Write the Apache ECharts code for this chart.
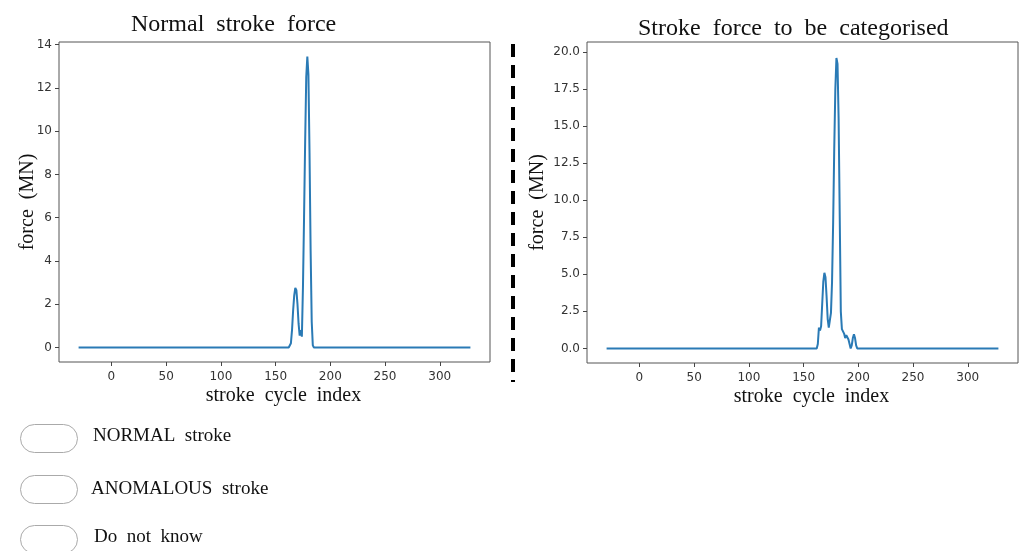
<!DOCTYPE html>
<html>
<head>
<meta charset="utf-8">
<script src="https://cdn.jsdelivr.net/npm/echarts@6/dist/echarts.min.js"></script>
<style>
html,body{margin:0;padding:0;background:#fff;}
#chart{width:1019px;height:551px;}
</style>
</head>
<body>
<div id="chart"></div>
<script>
// ---- data ----
const leftTitle = 'Normal  stroke  force';
const rightTitle = 'Stroke  force  to  be  categorised';
const xLabel = 'stroke  cycle  index';
const yLabel = 'force  (MN)';
const xTicks = [0, 50, 100, 150, 200, 250, 300];
const leftYTicks = [0, 2, 4, 6, 8, 10, 12, 14];
const rightYTicks = [0, 2.5, 5, 7.5, 10, 12.5, 15, 17.5, 20];

// normal stroke: index / force
const normalIdx   = [-30, 162, 163, 164, 165, 166, 167, 168, 169, 170, 171, 172, 173, 174, 175, 176, 177, 178, 179, 180, 181, 182, 183, 184, 185, 328];
const normalForce = [0, 0, 0.05, 0.2, 0.8, 1.7, 2.4, 2.75, 2.65, 2.0, 1.1, 0.55, 0.8, 0.5, 2.8, 6.0, 9.5, 12.5, 13.45, 12.6, 9.0, 4.5, 1.2, 0.1, 0, 0];

// stroke to be categorised: index / force
const testIdx   = [-30, 162, 163, 164, 165, 166, 167, 168, 169, 170, 171, 172, 173, 174, 175, 176, 177, 178, 179, 180, 181, 182, 183, 184, 185, 186, 187, 188, 189, 190, 191, 192, 193, 194, 195, 196, 197, 198, 199, 328];
const testForce = [0, 0, 0.3, 1.4, 1.2, 1.5, 3.0, 4.5, 5.1, 4.8, 3.5, 2.0, 1.4, 1.9, 2.4, 4.5, 8.5, 13.5, 17.5, 19.6, 19.2, 15.5, 9.0, 2.5, 1.3, 1.2, 1.0, 0.7, 0.9, 1.0, 0.6, 0.3, 0.0, 0.2, 0.7, 0.95, 0.7, 0.2, 0, 0];

const options = ['NORMAL  stroke', 'ANOMALOUS  stroke', 'Do  not  know'];

// ---- chart ----
const pairs = (xs, ys) => xs.map((x, i) => [x, ys[i]]);
const serif = '"Liberation Serif", "DejaVu Serif", serif';
const sans = '"DejaVu Sans", sans-serif';
const lineColor = '#2a7ab5';

function xAxisCfg(gi) {
  return {
    gridIndex: gi, type: 'value', min: -47.9, max: 345.9,
    axisLine: {show: false, onZero: false}, splitLine: {show: false},
    axisTick: {show: true, customValues: xTicks, length: 4, lineStyle: {color: '#444'}},
    axisLabel: {customValues: xTicks, fontFamily: sans, fontSize: 12, color: '#333', margin: 9},
    name: xLabel, nameLocation: 'middle', nameGap: 24, nameMoveOverlap: false,
    nameTextStyle: {fontFamily: serif, fontSize: 20, color: '#111', verticalAlign: 'top', padding: [0, 0, 0, 18]}
  };
}
function yAxisCfg(gi, min, max, ticks, dec, gap) {
  return {
    gridIndex: gi, type: 'value', min: min, max: max,
    axisLine: {show: false, onZero: false}, splitLine: {show: false},
    axisTick: {show: true, customValues: ticks, length: 4, lineStyle: {color: '#444'}},
    axisLabel: {customValues: ticks, fontFamily: sans, fontSize: 12, color: '#333', margin: 7,
      formatter: v => v.toFixed(dec)},
    name: yLabel, nameLocation: 'middle', nameGap: gap, nameRotate: 90, nameMoveOverlap: false,
    nameTextStyle: {fontFamily: serif, fontSize: 20, color: '#111'}
  };
}

const chart = echarts.init(document.getElementById('chart'), null, {renderer: 'canvas'});
const graphics = [
  {type: 'line', shape: {x1: 513, y1: 44, x2: 513, y2: 382},
   style: {stroke: '#000', lineWidth: 4, lineDash: [13, 8]}}
];
const pillTops = [424, 475, 525];
const textPos = [[93, 436], [91, 489], [94, 537]];
options.forEach((t, i) => {
  graphics.push({type: 'rect', shape: {x: 20.5, y: pillTops[i] + 0.5, width: 57, height: 28, r: 14},
    style: {fill: '#fff', stroke: '#aaa', lineWidth: 1}});
  graphics.push({type: 'text', x: textPos[i][0], y: textPos[i][1],
    style: {text: t, font: '19px ' + serif, fill: '#111', verticalAlign: 'middle'}});
});

chart.setOption({
  animation: false,
  backgroundColor: '#fff',
  title: [
    {text: leftTitle, left: 126, top: 8, textStyle: {fontFamily: serif, fontSize: 24, fontWeight: 'normal', color: '#111'}},
    {text: rightTitle, left: 633, top: 12, textStyle: {fontFamily: serif, fontSize: 24, fontWeight: 'normal', color: '#111'}}
  ],
  grid: [
    {left: 59, top: 42, width: 431, height: 320, show: true, borderColor: '#555', borderWidth: 1, backgroundColor: 'transparent'},
    {left: 587, top: 42, width: 431, height: 321, show: true, borderColor: '#555', borderWidth: 1, backgroundColor: 'transparent'}
  ],
  xAxis: [xAxisCfg(0), xAxisCfg(1)],
  yAxis: [
    yAxisCfg(0, -0.67, 14.12, leftYTicks, 0, 21),
    yAxisCfg(1, -0.985, 20.68, rightYTicks, 1, 39)
  ],
  series: [
    {type: 'line', xAxisIndex: 0, yAxisIndex: 0, data: pairs(normalIdx, normalForce), showSymbol: false,
     lineStyle: {color: lineColor, width: 2}, smooth: false},
    {type: 'line', xAxisIndex: 1, yAxisIndex: 1, data: pairs(testIdx, testForce), showSymbol: false,
     lineStyle: {color: lineColor, width: 2}, smooth: false}
  ],
  graphic: graphics
});
</script>
</body>
</html>
